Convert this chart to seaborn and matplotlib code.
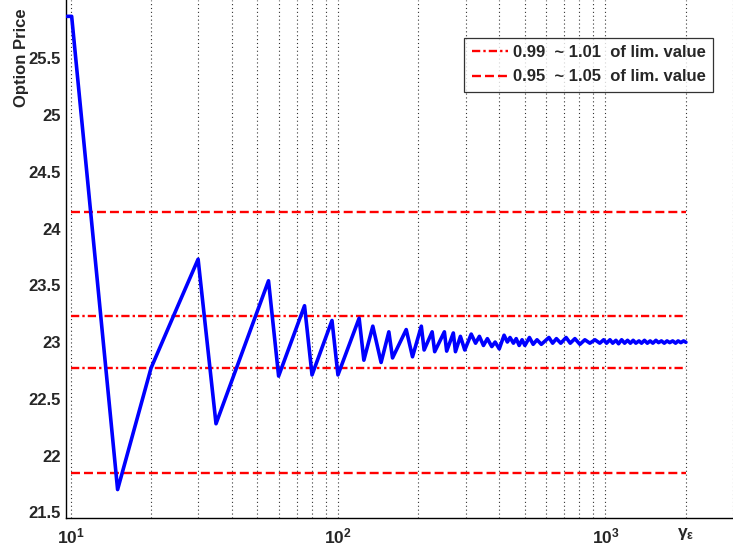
import numpy as np
import pandas as pd
import matplotlib
matplotlib.use("Agg")
import matplotlib.pyplot as plt
import seaborn as sns
from matplotlib.ticker import FixedLocator, FixedFormatter, NullFormatter, LogLocator

# ---------------- data ----------------
steps = [9.7, 10.1, 15, 20, 25, 30, 35, 55, 60, 75, 80, 95, 100,
         120, 125, 135, 145, 155, 160, 180, 190, 205, 210, 225, 230,
         250, 255, 270, 275, 287, 298, 315, 327, 338, 350, 362, 376,
         387, 401, 418, 430, 440, 453, 464, 476, 488, 500, 520, 537,
         555, 576, 615, 635, 656, 681, 713, 739, 769, 803, 838, 875,
         914, 953,
         985, 1010, 1040, 1065, 1095, 1120, 1150, 1180, 1210, 1240,
         1270, 1300, 1335, 1365, 1400, 1435, 1470, 1505, 1545, 1580,
         1620, 1660, 1700, 1740, 1785, 1830, 1870, 1915, 1960, 2000]
price = [25.87, 25.87, 21.70, 22.77, 23.30, 23.73, 22.28, 23.54, 22.70, 23.32, 22.71, 23.19, 22.71,
         23.21, 22.84, 23.14, 22.82, 23.09, 22.86, 23.11, 22.87, 23.14, 22.93, 23.09, 22.915,
         23.09, 22.92, 23.08, 22.915, 23.05, 22.93, 23.07, 22.99, 23.05, 22.97, 23.03, 22.96,
         23.00, 22.94, 23.06, 23.00, 23.04, 22.99, 23.03, 22.97, 23.02, 22.97, 23.04, 22.98,
         23.02, 22.98, 23.04, 22.99, 23.03, 22.99, 23.04, 22.99, 23.03, 22.98, 23.02, 22.99,
         23.02, 22.99,
         23.02, 22.99, 23.02, 22.99, 23.015, 22.985, 23.02, 22.99, 23.015, 22.99,
         23.015, 22.99, 23.01, 22.99, 23.015, 22.99, 23.01, 22.99, 23.015, 22.995,
         23.01, 22.99, 23.01, 22.995, 23.01, 22.99, 23.01, 22.995, 23.01, 22.998]

lim_value = 23.0
band_inner = [0.99, 1.01]
band_outer = [0.95, 1.05]
band_x = [10, 2000]
label_inner = "0.99  ~ 1.01  of lim. value"
label_outer = "0.95  ~ 1.05  of lim. value"

yticks = [21.5, 22, 22.5, 23, 23.5, 24, 24.5, 25, 25.5]
ytick_labels = ["21.5", "22", "22.5", "23", "23.5", "24", "24.5", "25", "25.5"]
xticks = [10, 100, 1000, 2000]
xtick_labels = [r"$\mathbf{10^{1}}$", r"$\mathbf{10^{2}}$", r"$\mathbf{10^{3}}$",
                r"$\mathbf{\gamma_{\epsilon}}$"]
ylabel = "Option Price"

# ---------------- style ----------------
sns.set_style("white")
plt.rcParams["font.family"] = ["Liberation Sans", "DejaVu Sans"]
plt.rcParams["mathtext.fontset"] = "custom"
plt.rcParams["mathtext.rm"] = "Liberation Sans"
plt.rcParams["mathtext.bf"] = "Liberation Sans:bold"
plt.rcParams["mathtext.it"] = "Liberation Sans:italic:bold"

fig = plt.figure(figsize=(7.33, 5.51), dpi=100)
ax = fig.add_axes([0.0907, 0.0604, 0.9093, 0.9396])

df = pd.DataFrame({"steps": steps, "price": price})
sns.lineplot(data=df, x="steps", y="price", ax=ax, color="#0000ff",
             linewidth=2.6, estimator=None, sort=False, zorder=3)

dashdot = (0, (3.5, 1.3, 1.0, 1.3))
dashed = (0, (3.8, 1.7))
for i, f in enumerate(band_inner):
    bdf = pd.DataFrame({"x": band_x, "y": [lim_value * f] * 2})
    sns.lineplot(data=bdf, x="x", y="y", ax=ax, color="#ff0000", linewidth=1.7,
                 linestyle=dashdot, estimator=None,
                 label=label_inner if i == 0 else None, zorder=2)
for i, f in enumerate(band_outer):
    bdf = pd.DataFrame({"x": band_x, "y": [lim_value * f] * 2})
    sns.lineplot(data=bdf, x="x", y="y", ax=ax, color="#ff0000", linewidth=1.7,
                 linestyle=dashed, estimator=None,
                 label=label_outer if i == 0 else None, zorder=2)

ax.set_xscale("log")
ax.set_xlim(9.66, 3000)
ax.set_ylim(21.452, 26.014)

ax.xaxis.set_major_locator(FixedLocator(xticks))
ax.xaxis.set_major_formatter(FixedFormatter(xtick_labels))
ax.xaxis.set_minor_locator(LogLocator(base=10, subs=np.arange(2, 10), numticks=50))
ax.xaxis.set_minor_formatter(NullFormatter())
ax.set_yticks(yticks)
ax.set_yticklabels(ytick_labels, fontweight="bold", fontsize=12)
for t in ax.get_xticklabels():
    t.set_fontsize(12.5)

ax.tick_params(axis="both", which="major", direction="in", length=7, width=0.8,
               color="black", pad=4)
ax.tick_params(axis="x", which="minor", direction="in", length=4, width=0.6,
               color="#555555")
ax.tick_params(axis="x", which="major", pad=6)

ax.grid(True, which="both", axis="x", linestyle=(0, (1, 2.5)), color="#333333",
        linewidth=0.8)
ax.grid(False, axis="y")

for s in ["top", "right"]:
    ax.spines[s].set_visible(False)
for s in ["left", "bottom"]:
    ax.spines[s].set_color("black")
    ax.spines[s].set_linewidth(1.0)

ax.set_xlabel("")
ax.set_ylabel(ylabel, fontweight="bold", fontsize=12, labelpad=2)
ax.yaxis.set_label_coords(-0.0555, 0.888)

leg = ax.legend(loc="upper right", bbox_to_anchor=(0.970, 0.927),
                borderaxespad=0, frameon=True, fancybox=False,
                prop={"weight": "bold", "size": 12}, handlelength=2.2,
                handletextpad=0.25, borderpad=0.45, labelspacing=0.55)
leg.get_frame().set_edgecolor("black")
leg.get_frame().set_linewidth(0.9)

fig.savefig("out.png", dpi=100)
